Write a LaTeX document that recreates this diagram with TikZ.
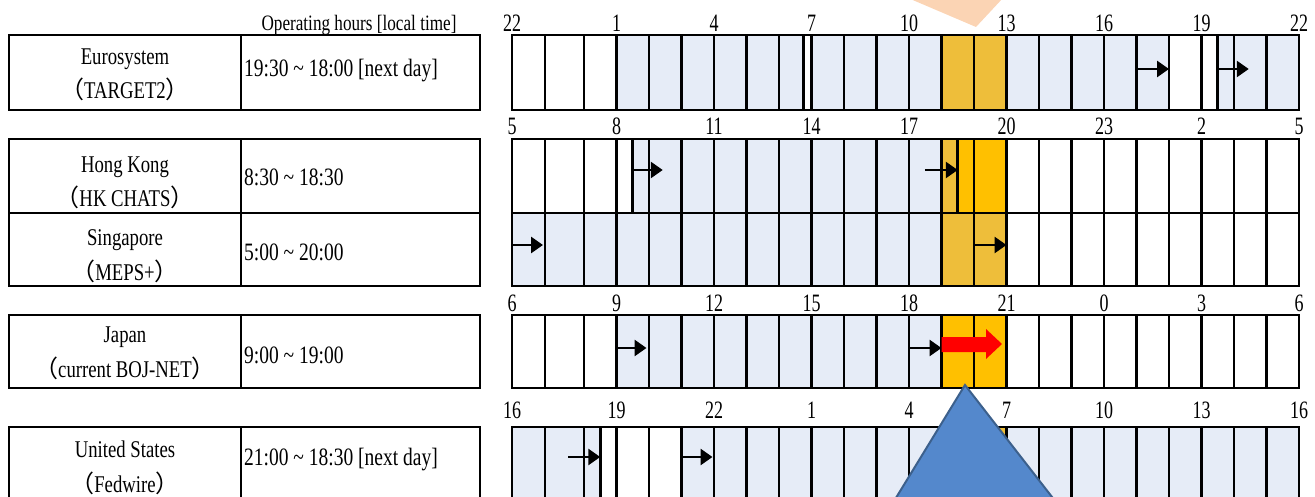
\documentclass[tikz,border=0pt]{standalone}
\usepackage{fontspec}
\setmainfont[FakeStretch=0.78]{Liberation Serif}
\newfontfamily\numfont[FakeStretch=0.72]{Liberation Serif}
\newfontfamily\cjk{Noto Sans CJK JP}
\usetikzlibrary{calc,arrows.meta}

\definecolor{paleblue}{RGB}{230,236,247}
\definecolor{goldtex}{RGB}{238,190,58}
\definecolor{hiorange}{RGB}{255,192,0}
\definecolor{peach}{RGB}{251,212,180}
\definecolor{triblue}{RGB}{84,136,204}
\definecolor{triedge}{RGB}{60,96,140}

\tikzset{
  gridline/.style={line width=2.1pt},
  boldline/.style={line width=3.4pt},
  boxline/.style={line width=2.6pt},
  hournum/.style={font=\numfont\fontsize{25}{25}\selectfont, inner sep=0pt, anchor=base},
  sysname/.style={font=\fontsize{24}{34.5}\selectfont, align=center, inner sep=0pt, anchor=base},
  optime/.style={font=\fontsize{25}{25}\selectfont, inner sep=0pt, anchor=base west},
  timearrow/.style={line width=2.8pt, -{Triangle[length=12pt,width=16pt]}},
}

\begin{document}
\begin{tikzpicture}[x=1pt,y=-1pt]
\useasboundingbox (0,0) rectangle (1315,497);
\clip (0,0) rectangle (1315,497);

% hour boundaries of the time grid
\foreach \x [count=\i from 0] in {512,545,584,616.5,649,681.5,714,746.5,779,811.5,844,876.5,909,941.5,974,1006.5,1039,1071.5,1104,1136.5,1169,1201.5,1234,1266.5,1299}
  \coordinate (h\i) at (\x,0);

% table columns
\coordinate (tL) at (9,0);
\coordinate (tM) at (241,0);
\coordinate (tR) at (480,0);

% rows
\coordinate (eT) at (0,35);  \coordinate (eB) at (0,110);
\coordinate (kT) at (0,139); \coordinate (kB) at (0,213);
\coordinate (sB) at (0,286);
\coordinate (jT) at (0,315); \coordinate (jB) at (0,388);
\coordinate (uT) at (0,427); \coordinate (uB) at (0,506);

% label and arrow heights
\coordinate (eL) at (0,32);  \coordinate (eA) at (0,69);
\coordinate (kL) at (0,135); \coordinate (kA) at (0,170);
\coordinate (sA) at (0,245);
\coordinate (jL) at (0,312); \coordinate (jA) at (0,348);
\coordinate (uL) at (0,418); \coordinate (uA) at (0,457);

% times off the hour
\coordinate (eBreak) at ($(h8)!.75!(h9)$);
\coordinate (eOpen) at ($(h21)!.5!(h22)$);
\coordinate (kOpen) at ($(h3)!.5!(h4)$);
\coordinate (kClose) at ($(h13)!.5!(h14)$);
\coordinate (uClose) at ($(h2)!.5!(h3)$);

\fill[peach] (908,-2) -- (1003,-2) -- (976,27) -- cycle;

\node[font=\fontsize{22}{22}\selectfont, inner sep=0pt, anchor=base] (hdr) at (359,31) {Operating hours [local time]};

% Eurosystem
\fill[paleblue] (h3 |- eT) rectangle (eBreak |- eB);
\fill[paleblue] (h9 |- eT) rectangle (h13 |- eB);
\fill[goldtex] (h13 |- eT) rectangle (h15 |- eB);
\fill[paleblue] (h15 |- eT) rectangle (h20 |- eB);
\fill[paleblue] (eOpen |- eT) rectangle (h24 |- eB);
\foreach \i in {1,...,23}
  \draw[gridline] (h\i |- eT) -- (h\i |- eB);
\foreach \p in {h3,eBreak,h9,eOpen}
  \draw[boldline] (\p |- eT) -- (\p |- eB);
\draw[boxline] (h0 |- eT) rectangle (h24 |- eB);
\draw[timearrow] (h19 |- eA) -- (h20 |- eA);
\draw[timearrow] (eOpen |- eA) -- ++(31,0);
\foreach \i/\t in {0/22,3/1,6/4,9/7,12/10,15/13,18/16,21/19,24/22}
  \node[hournum] (eh\i) at (h\i |- eL) {\t};

% Hong Kong and Singapore
\fill[paleblue] (kOpen |- kT) rectangle (h13 |- kB);
\fill[goldtex] (h13 |- kT) rectangle (kClose |- kB);
\fill[hiorange] (kClose |- kT) rectangle (h15 |- kB);
\fill[paleblue] (h0 |- kB) rectangle (h13 |- sB);
\fill[goldtex] (h13 |- kB) rectangle (h15 |- sB);
\foreach \i in {1,...,23}
  \draw[gridline] (h\i |- kT) -- (h\i |- sB);
\foreach \p in {kOpen,kClose}
  \draw[boldline] (\p |- kT) -- (\p |- kB);
\draw[boxline] (h0 |- kT) rectangle (h24 |- sB);
\draw[boxline] (h0 |- kB) -- (h24 |- kB);
\draw[timearrow] (kOpen |- kA) -- ++(30,0);
\draw[timearrow] ($(kClose |- kA)-(33,0)$) -- (kClose |- kA);
\draw[timearrow] (h0 |- sA) -- ++(31,0);
\draw[timearrow] (h14 |- sA) -- (h15 |- sA);
\foreach \i/\t in {0/5,3/8,6/11,9/14,12/17,15/20,18/23,21/2,24/5}
  \node[hournum] (kh\i) at (h\i |- kL) {\t};

% Japan
\fill[paleblue] (h3 |- jT) rectangle (h13 |- jB);
\fill[hiorange] (h13 |- jT) rectangle (h15 |- jB);
\foreach \i in {1,...,23}
  \draw[gridline] (h\i |- jT) -- (h\i |- jB);
\foreach \p in {h3,h13}
  \draw[boldline] (\p |- jT) -- (\p |- jB);
\draw[boxline] (h0 |- jT) rectangle (h24 |- jB);
\draw[timearrow] (h3 |- jA) -- ++(30,0);
\draw[timearrow] (h12 |- jA) -- (h13 |- jA);
\fill[red] (941.5,337) -- (986,337) -- (986,329) -- (1002,344) -- (986,359) -- (986,352) -- (941.5,352) -- cycle;
\foreach \i/\t in {0/6,3/9,6/12,9/15,12/18,15/21,18/0,21/3,24/6}
  \node[hournum] (jh\i) at (h\i |- jL) {\t};

% United States
\fill[paleblue] (h0 |- uT) rectangle (uClose |- uB);
\fill[paleblue] (h5 |- uT) rectangle (h13 |- uB);
\fill[goldtex] (h13 |- uT) rectangle (h15 |- uB);
\fill[paleblue] (h15 |- uT) rectangle (h24 |- uB);
\foreach \i in {1,...,23}
  \draw[gridline] (h\i |- uT) -- (h\i |- uB);
\foreach \p in {uClose,h5}
  \draw[boldline] (\p |- uT) -- (\p |- uB);
\draw[boxline] (h0 |- uT) rectangle (h24 |- uB);
\draw[timearrow] ($(uClose |- uA)-(32,0)$) -- (uClose |- uA);
\draw[timearrow] (h5 |- uA) -- ++(31,0);
\foreach \i/\t in {0/16,3/19,6/22,9/1,12/4,15/7,18/10,21/13,24/16}
  \node[hournum] (uh\i) at (h\i |- uL) {\t};

% left table
\draw[boxline] (tL |- eT) rectangle (tR |- eB);
\draw[boxline] (tM |- eT) -- (tM |- eB);
\draw[boxline] (tL |- kT) rectangle (tR |- sB);
\draw[boxline] (tL |- kB) -- (tR |- kB);
\draw[boxline] (tM |- kT) -- (tM |- sB);
\draw[boxline] (tL |- jT) rectangle (tR |- jB);
\draw[boxline] (tM |- jT) -- (tM |- jB);
\draw[boxline] (tL |- uT) rectangle (tR |- uB);
\draw[boxline] (tM |- uT) -- (tM |- uB);

\node[sysname] (euro) at (125,99) {Eurosystem\\{\cjk （}TARGET2{\cjk ）}};
\node[sysname] (hk) at (125,207) {Hong Kong\\{\cjk （}HK CHATS{\cjk ）}};
\node[sysname] (sg) at (125,280) {Singapore\\{\cjk （}MEPS+{\cjk ）}};
\node[sysname] (jp) at (125,377) {Japan\\{\cjk （}current BOJ-NET{\cjk ）}};
\node[sysname] (us) at (125,492) {United States\\{\cjk （}Fedwire{\cjk ）}};

\node[optime] (eutime) at (244,77) {19:30 \textasciitilde{} 18:00 [next day]};
\node[optime] (hktime) at (244,186) {8:30 \textasciitilde{} 18:30};
\node[optime] (sgtime) at (244,261) {5:00 \textasciitilde{} 20:00};
\node[optime] (jptime) at (244,363) {9:00 \textasciitilde{} 19:00};
\node[optime] (ustime) at (244,465) {21:00 \textasciitilde{} 18:30 [next day]};

\filldraw[fill=triblue, draw=triedge, line width=2pt] (965,385) -- (1059,506) -- (891,506) -- cycle;
\end{tikzpicture}
\end{document}
